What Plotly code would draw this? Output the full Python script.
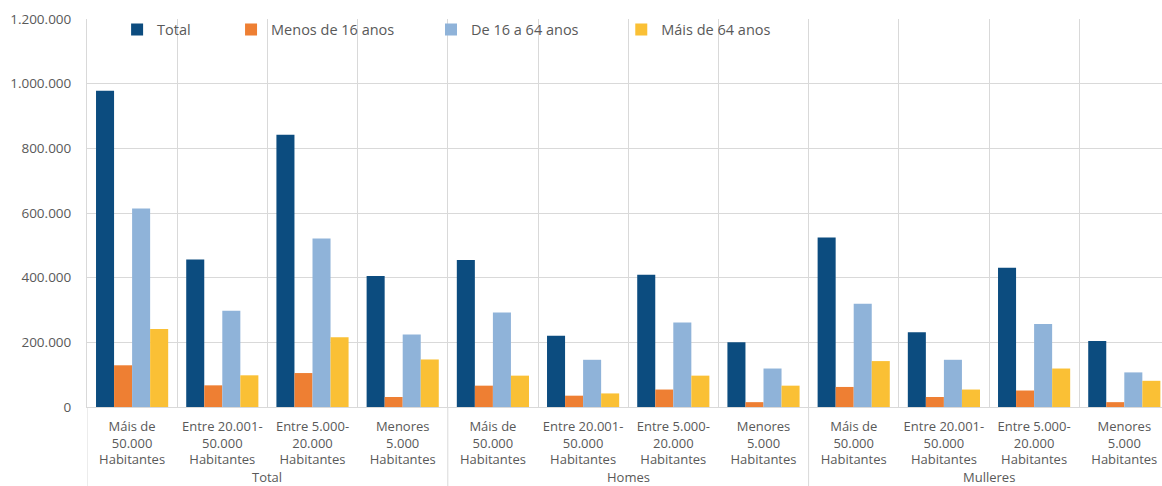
import plotly.graph_objects as go

groups = ["Total", "Homes", "Mulleres"]
sizes = ["Máis de<br>50.000<br>Habitantes", "Entre 20.001-<br>50.000<br>Habitantes",
         "Entre 5.000-<br>20.000<br>Habitantes", "Menores<br>5.000<br>Habitantes"]

series_names = ["Total", "Menos de 16 anos", "De 16 a 64 anos", "Máis de 64 anos"]
total_vals = [978000, 456000, 842000, 405000, 455000, 220000, 409000, 200000, 524000, 231000, 431000, 204000]
menos16_vals = [129000, 67000, 105000, 31000, 66000, 35000, 54000, 15000, 62000, 31000, 51000, 15000]
de16a64_vals = [614000, 298000, 521000, 224000, 292000, 146000, 261000, 119000, 319000, 146000, 257000, 107000]
mais64_vals = [241000, 98000, 216000, 147000, 97000, 42000, 97000, 66000, 142000, 54000, 119000, 81000]

colors = ["#0c4c7f", "#ee7f33", "#8fb3d9", "#fac035"]
legend_x = [0.028, 0.134, 0.320, 0.497]

cat_labels = [s for g in groups for s in sizes]
xpos = list(range(len(cat_labels)))
all_vals = [total_vals, menos16_vals, de16a64_vals, mais64_vals]

font_family = "Open Sans, Noto Sans, sans-serif"
grey = "#595959"
gridc = "#d9d9d9"

fig = go.Figure()
for i, (name, vals, col) in enumerate(zip(series_names, all_vals, colors)):
    lg = "legend" if i == 0 else f"legend{i+1}"
    fig.add_trace(go.Bar(x=xpos, y=vals, name=name, marker_color=col,
                         marker_line_width=0, legend=lg))

layout_legends = {}
for i, lx in enumerate(legend_x):
    key = "legend" if i == 0 else f"legend{i+1}"
    layout_legends[key] = dict(x=lx, y=0.973, xanchor="left", yanchor="middle",
                               orientation="h", bgcolor="rgba(0,0,0,0)",
                               font=dict(family=font_family, size=14.5, color=grey),
                               itemwidth=30, tracegroupgap=0)

fig.update_layout(
    width=1162, height=486,
    margin=dict(l=87, r=0, t=19, b=79, pad=0, autoexpand=False),
    paper_bgcolor="white", plot_bgcolor="white",
    barmode="group", bargap=0.2, bargroupgap=0,
    separators=",.",
    font=dict(family=font_family, size=13.5, color=grey),
    showlegend=True,
    **layout_legends,
)

fig.update_xaxes(
    range=[-0.5, 11.418], automargin=False,
    tickmode="array", tickvals=xpos, ticktext=cat_labels,
    tickangle=0, showgrid=False, zeroline=False,
    showline=True, linecolor=gridc, linewidth=1,
    ticks="", ticklabelstandoff=7,
    minor=dict(tick0=0.5, dtick=1, showgrid=True, gridcolor=gridc, gridwidth=1, ticks=""),
    tickfont=dict(family=font_family, size=13, color=grey),
)
fig.update_yaxes(
    range=[0, 1200000], dtick=200000, tickformat=",d", automargin=False,
    showgrid=True, gridcolor=gridc, gridwidth=1,
    zeroline=False, showline=True, linecolor=gridc, linewidth=1,
    ticks="", ticklabelstandoff=12,
    tickfont=dict(family=font_family, size=13.5, color=grey),
)

# group labels and group dividers below the axis
n = len(sizes)
for gi, g in enumerate(groups):
    center = (gi * n + gi * n + n - 1) / 2
    fig.add_annotation(x=center, xref="x", y=-0.181, yref="paper", text=g,
                       showarrow=False, yanchor="middle",
                       font=dict(family=font_family, size=13, color=grey))
    fig.add_shape(type="line", xref="x", yref="paper", x0=gi * n - 0.5, x1=gi * n - 0.5,
                  y0=0, y1=-0.3, line=dict(color=gridc, width=1))

fig.write_html(
    "out.html",
    config={"displayModeBar": False},
    post_script="document.body.style.margin='0';document.body.style.overflow='hidden';",
)
